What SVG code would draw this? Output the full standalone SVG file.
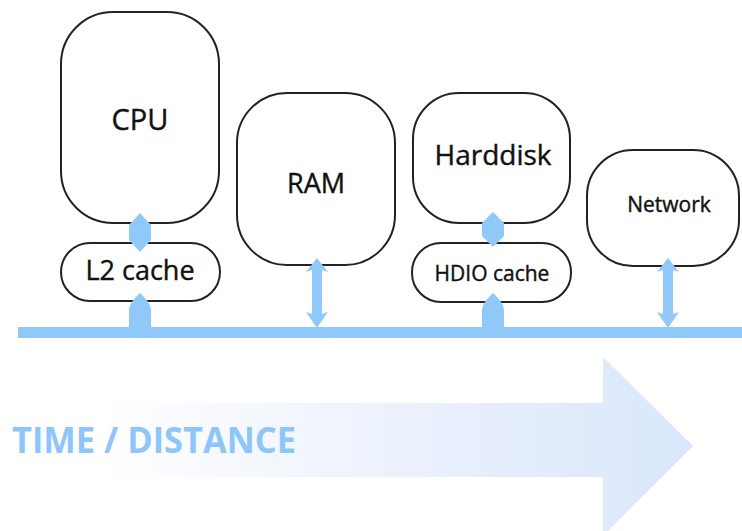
<svg xmlns="http://www.w3.org/2000/svg" width="742" height="531" viewBox="0 0 742 531">
<style>
.node{fill:#fff;stroke:#222;stroke-width:2}
.lbl{font-family:"Open Sans","Noto Sans","Liberation Sans",sans-serif;fill:#111;stroke:#111;stroke-width:0.4;text-anchor:middle}
.conn{fill:#90c8fa}
</style>
<defs>
<linearGradient id="g" x1="100" y1="0" x2="700" y2="0" gradientUnits="userSpaceOnUse">
<stop offset="0" stop-color="#ffffff"/>
<stop offset="0.35" stop-color="#f1f5fd"/>
<stop offset="1" stop-color="#d9e6fb"/>
</linearGradient>
</defs>
<rect width="742" height="531" fill="#fff"/>
<g id="time-arrow">
<path d="M100,403 L603,403 L603,357 L693,446 L603,536 L603,477 L100,477 Z" fill="url(#g)"/>
<text x="12" y="453" textLength="284" lengthAdjust="spacingAndGlyphs" style="font-family:'Open Sans','Noto Sans','Liberation Sans',sans-serif;font-weight:bold;font-size:35px;fill:#8ec5fa">TIME / DISTANCE</text>
</g>
<g id="cpu"><rect class="node" x="61" y="12" width="158" height="211" rx="52"/><text class="lbl" x="140" y="130" font-size="29">CPU</text></g>
<g id="l2"><rect class="node" x="61" y="243" width="159" height="58" rx="29"/><text class="lbl" x="140" y="280" font-size="27">L2 cache</text></g>
<g id="ram"><rect class="node" x="237" y="93" width="158" height="172" rx="50"/><text class="lbl" x="316" y="193" font-size="27">RAM</text></g>
<g id="harddisk"><rect class="node" x="413" y="93" width="157" height="130" rx="46"/><text class="lbl" x="493" y="165" font-size="28">Harddisk</text></g>
<g id="hdio"><rect class="node" x="412" y="243" width="159" height="59" rx="29"/><text class="lbl" x="492" y="281" font-size="21">HDIO cache</text></g>
<g id="network"><rect class="node" x="587" y="150" width="152" height="116" rx="46"/><text class="lbl" x="669" y="212" font-size="21">Network</text></g>
<g id="connectors">
<rect class="conn" x="18" y="327" width="724" height="11"/>
<path class="conn" d="M140,213 L151,225 L151,240 L140,252 L129,240 L129,225 Z"/>
<path class="conn" d="M140,293 Q151,303 151,310 L151,330 L129,330 L129,310 Q129,303 140,293 Z"/>
<path class="conn" d="M493,212 L504,223 L504,236 L493,247 L482,236 L482,223 Z"/>
<path class="conn" d="M493,293 Q504,303 504,310 L504,330 L482,330 L482,310 Q482,303 493,293 Z"/>
<path class="conn" d="M317,258 L328,272 L322,270 L322,314 L328,312 L317,328 L306,312 L312,314 L312,270 L306,272 Z"/>
<path class="conn" d="M668,258 L679,272 L673,270 L673,314 L679,312 L668,328 L657,312 L663,314 L663,270 L657,272 Z"/>
</g>
</svg>
